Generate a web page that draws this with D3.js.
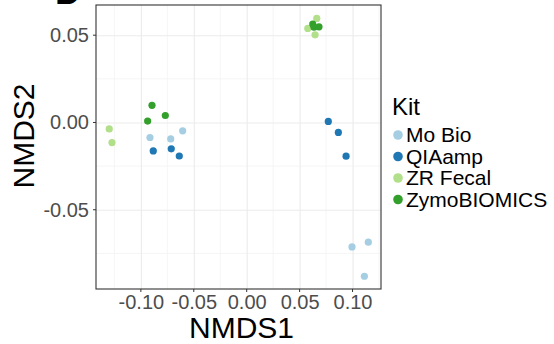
<!DOCTYPE html>
<html>
<head>
<meta charset="utf-8">
<script src="https://cdn.jsdelivr.net/npm/d3@7"></script>
<style>
  body { margin: 0; background: #fff; }
  svg { display: block; font-family: "Liberation Sans", Arial, sans-serif; }
</style>
</head>
<body>
<svg id="chart" width="554" height="344"></svg>
<script>
// NMDS coordinates
const kits = ['Mo Bio', 'QIAamp', 'ZR Fecal', 'ZymoBIOMICS'];
const kitColors = ['#a6cee3', '#1f78b4', '#b2df8a', '#33a02c'];

const moBio = [
  [-0.0914, -0.0086], [-0.0718, -0.0094], [-0.0605, -0.0048],
  [0.0995, -0.0713], [0.1149, -0.0686], [0.1112, -0.0881]
];
const qiaAmp = [
  [-0.0883, -0.0163], [-0.0713, -0.0151], [-0.0637, -0.0192],
  [0.0771, 0.0006], [0.0866, -0.0057], [0.0939, -0.0193]
];
const zrFecal = [
  [-0.1299, -0.0037], [-0.1273, -0.0115],
  [0.0662, 0.0596], [0.0577, 0.0539], [0.0646, 0.0502]
];
const zymoBiomics = [
  [-0.0895, 0.0098], [-0.0936, 0.0008], [-0.0769, 0.0040],
  [0.0624, 0.0564], [0.0683, 0.0548], [0.0636, 0.0546]
];

const xTicks = [-0.10, -0.05, 0.00, 0.05, 0.10];
const yTicks = [-0.05, 0.00, 0.05];
const xMinor = [-0.125, -0.075, -0.025, 0.025, 0.075, 0.125];
const yMinor = [-0.075, -0.025, 0.025];

const seriesByKit = [moBio, qiaAmp, zrFecal, zymoBiomics];

const svg = d3.select('#chart');
const panel = { left: 96, top: 5, right: 381, bottom: 289 };

const x = d3.scaleLinear().domain([-0.1424, 0.1269]).range([panel.left, panel.right]);
const y = d3.scaleLinear().domain([-0.0954, 0.0673]).range([panel.bottom, panel.top]);
const color = d3.scaleOrdinal().domain(kits).range(kitColors);

// panel grid
const grid = svg.append('g');
grid.selectAll('.xminor').data(xMinor.filter(v => x(v) > panel.left && x(v) < panel.right))
  .join('line')
  .attr('x1', d => x(d)).attr('x2', d => x(d))
  .attr('y1', panel.top).attr('y2', panel.bottom)
  .attr('stroke', '#f2f2f2').attr('stroke-width', 0.8);
grid.selectAll('.yminor').data(yMinor)
  .join('line')
  .attr('y1', d => y(d)).attr('y2', d => y(d))
  .attr('x1', panel.left).attr('x2', panel.right)
  .attr('stroke', '#f2f2f2').attr('stroke-width', 0.8);

const xAxis = svg.append('g')
  .attr('transform', `translate(0,${panel.bottom})`)
  .call(d3.axisBottom(x).tickValues(xTicks).tickFormat(d3.format('.2f'))
    .tickSizeInner(-(panel.bottom - panel.top)).tickSizeOuter(0).tickPadding(6));
const yAxis = svg.append('g')
  .attr('transform', `translate(${panel.left},0)`)
  .call(d3.axisLeft(y).tickValues(yTicks).tickFormat(d3.format('.2f'))
    .tickSizeInner(-(panel.right - panel.left)).tickSizeOuter(0).tickPadding(7));

[xAxis, yAxis].forEach(ax => {
  ax.select('.domain').remove();
  ax.selectAll('.tick line').attr('stroke', '#ebebeb').attr('stroke-width', 1.1);
  ax.selectAll('.tick text')
    .attr('fill', '#4d4d4d')
    .style('font-size', '20px')
    .text(d => d3.format('.2f')(d).replace('−', '-'));
});

// small tick marks outside the panel
svg.append('g').selectAll('line').data(xTicks).join('line')
  .attr('x1', d => x(d)).attr('x2', d => x(d))
  .attr('y1', panel.bottom).attr('y2', panel.bottom + 3)
  .attr('stroke', '#333');
svg.append('g').selectAll('line').data(yTicks).join('line')
  .attr('y1', d => y(d)).attr('y2', d => y(d))
  .attr('x1', panel.left - 3).attr('x2', panel.left)
  .attr('stroke', '#333');

// points
kits.forEach((kit, i) => {
  svg.append('g').selectAll('circle').data(seriesByKit[i]).join('circle')
    .attr('cx', d => x(d[0]))
    .attr('cy', d => y(d[1]))
    .attr('r', 3.6)
    .attr('fill', color(kit));
});

// panel border
svg.append('rect')
  .attr('x', panel.left).attr('y', panel.top)
  .attr('width', panel.right - panel.left).attr('height', panel.bottom - panel.top)
  .attr('fill', 'none').attr('stroke', '#333').attr('stroke-width', 1.1);

// axis titles
svg.append('text')
  .attr('x', (panel.left + panel.right) / 2 + 3).attr('y', 338)
  .attr('text-anchor', 'middle').style('font-size', '30px')
  .text('NMDS1');
svg.append('text')
  .attr('transform', 'translate(34,136) rotate(-90)')
  .attr('text-anchor', 'middle').style('font-size', '30px')
  .text('NMDS2');

// clipped panel tag
svg.append('text')
  .attr('x', 55).attr('y', 4)
  .style('font-size', '36px').style('font-weight', 'bold')
  .text('D');

// legend
const legend = svg.append('g');
legend.append('text')
  .attr('x', 392).attr('y', 115)
  .style('font-size', '24px')
  .text('Kit');
const rows = legend.selectAll('.row').data(kits).join('g')
  .attr('transform', (d, i) => `translate(0,${135 + i * 21.5})`);
rows.append('circle')
  .attr('cx', 398).attr('cy', 0).attr('r', 4.8)
  .attr('fill', d => color(d));
rows.append('text')
  .attr('x', 406).attr('y', 7)
  .style('font-size', '21px')
  .text(d => d);
</script>
</body>
</html>
